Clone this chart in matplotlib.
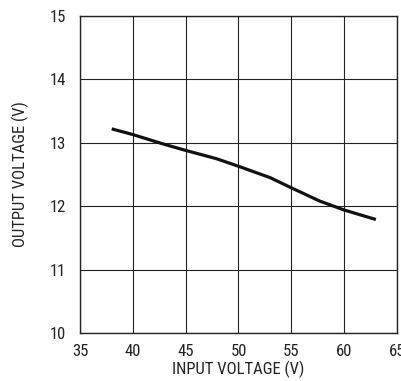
import matplotlib.pyplot as plt

plt.rcParams['font.family'] = ['Roboto Condensed', 'DejaVu Sans']

# Output voltage vs input voltage
vin = [38, 40, 42.9, 45, 47.9, 50, 53, 55, 57.7, 60, 63]
vout = [13.22, 13.13, 12.98, 12.88, 12.75, 12.63, 12.45, 12.29, 12.08, 11.94, 11.79]

x_ticks = [35, 40, 45, 50, 55, 60, 65]
y_ticks = [10, 11, 12, 13, 14, 15]

fig = plt.figure(figsize=(4.02, 3.81), dpi=100)
ax = fig.add_axes([80/402, 48/381, 317/402, 317/381])

ax.plot(vin, vout, color='#111111', linewidth=2.3, solid_capstyle='butt')

ax.set_xlim(35, 65)
ax.set_ylim(10, 15)
ax.set_xticks(x_ticks)
ax.set_yticks(y_ticks)
ax.grid(True, color='#222222', linewidth=0.8)
ax.set_axisbelow(True)
for s in ax.spines.values():
    s.set_linewidth(1.0)
    s.set_color('#222222')
ax.tick_params(length=0, labelsize=12, pad=8, colors='#222222')
ax.tick_params(axis='y', pad=10)

ax.set_xlabel('INPUT VOLTAGE (V)', fontsize=12, labelpad=1, color='#222222')
ax.set_ylabel('OUTPUT VOLTAGE (V)', fontsize=12, labelpad=15, color='#222222')

fig.savefig('out.png', dpi=100)
